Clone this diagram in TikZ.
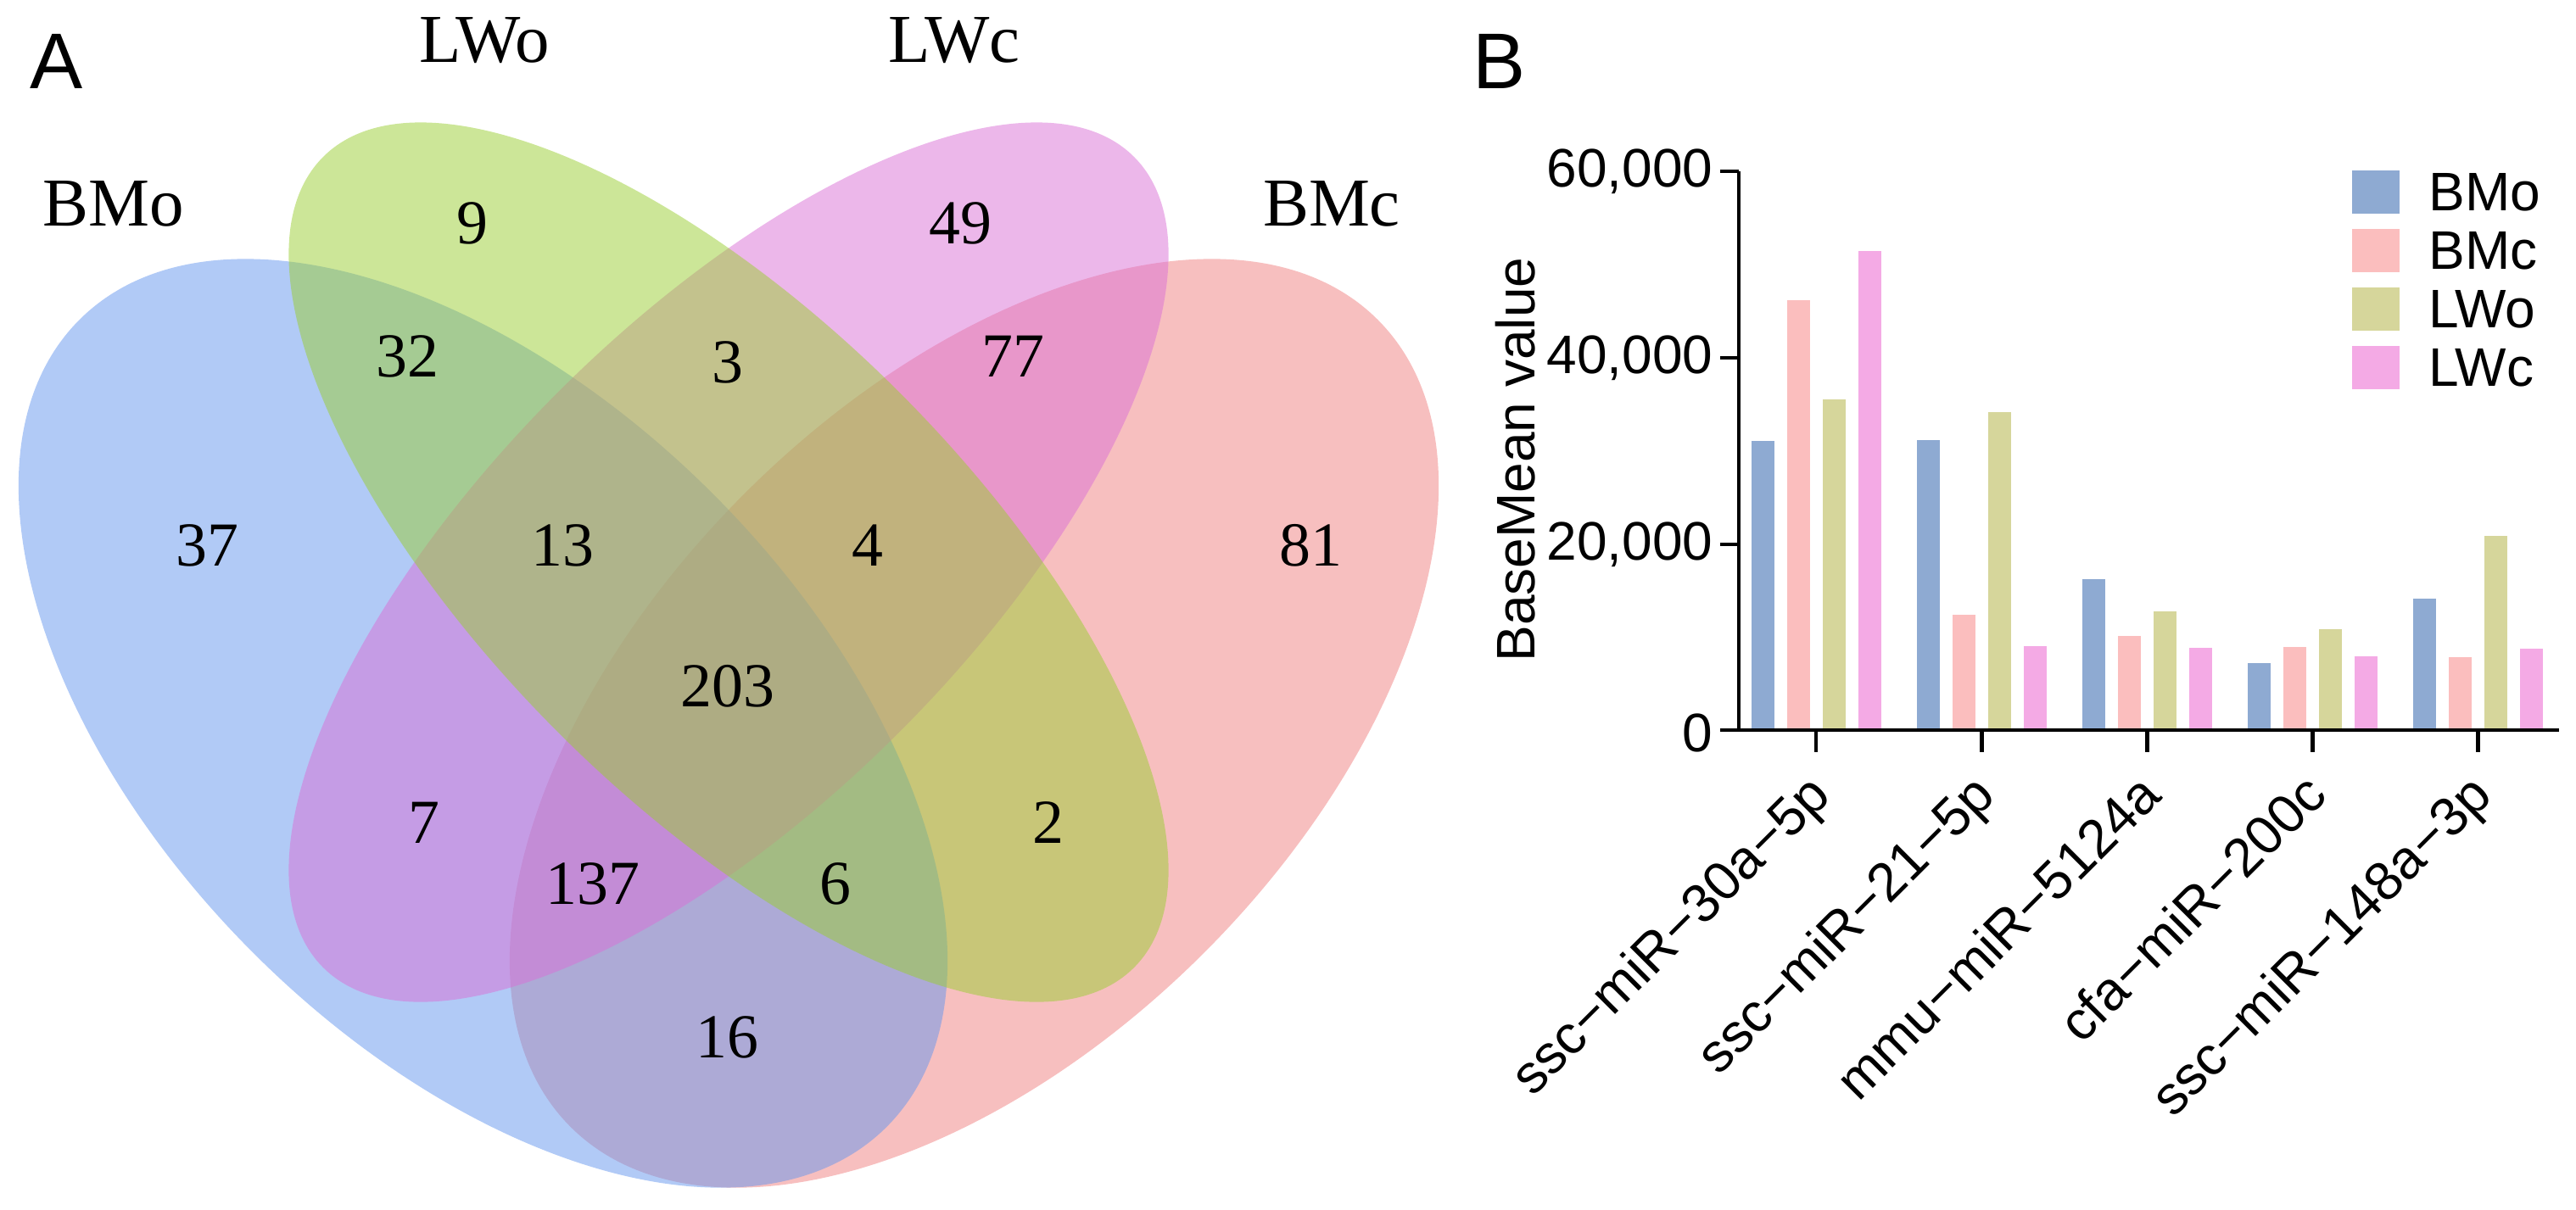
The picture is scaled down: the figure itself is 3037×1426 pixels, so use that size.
\documentclass[tikz,border=0pt]{standalone}
\usepackage{fontspec}
\setmainfont{Liberation Serif}
\newfontfamily\arialfont{Liberation Sans}
\definecolor{bmoV}{RGB}{100,149,237}
\definecolor{bmcV}{RGB}{240,128,128}
\definecolor{lwoV}{RGB}{154,205,50}
\definecolor{lwcV}{RGB}{218,112,214}
\definecolor{bmoB}{RGB}{142,170,210}
\definecolor{bmcB}{RGB}{251,190,190}
\definecolor{lwoB}{RGB}{214,214,155}
\definecolor{lwcB}{RGB}{244,170,229}

\begin{document}
\begin{tikzpicture}[x=0.01cm, y=-0.01cm]
    \tikzset{venn/.style={fill opacity=0.5},
             setlab/.style={font=\fontsize{23}{23}\selectfont, inner sep=0pt},
             count/.style={font=\fontsize{21}{21}\selectfont, inner sep=0pt},
             panel/.style={font=\arialfont\fontsize{26.5}{26.5}\selectfont, inner sep=0pt},
             axtext/.style={font=\arialfont\fontsize{18.2}{18.2}\selectfont, inner sep=0pt},
             axline/.style={line width=1.4pt}}
    \useasboundingbox (0,0) rectangle (3037,1426);

    \node[panel] (A) at (67, 72) {A};
    \node[panel] (B) at (1768, 72) {B};

    \fill[bmcV, venn, rotate around={45:(1148.5,853)}] (1148.5,853) ellipse [x radius=673, y radius=383];
    \fill[bmoV, venn, rotate around={-45:(569.5,853)}] (569.5,853) ellipse [x radius=673, y radius=383];
    \fill[lwcV, venn, rotate around={45:(859,663)}] (859,663) ellipse [x radius=676, y radius=284];
    \fill[lwoV, venn, rotate around={-45:(859,663)}] (859,663) ellipse [x radius=676, y radius=284];

    \node[setlab] (BMo) at (134, 240) {BMo};
    \node[setlab] (LWo) at (571, 48) {LWo};
    \node[setlab] (LWc) at (1125, 48) {LWc};
    \node[setlab] (BMc) at (1570, 240) {BMc};

    \node[count] (n9) at (557, 263) {9};
    \node[count] (n49) at (1132, 263) {49};
    \node[count] (n32) at (480, 420) {32};
    \node[count] (n3) at (858, 427) {3};
    \node[count] (n77) at (1194, 420) {77};
    \node[count] (n37) at (244, 643) {37};
    \node[count] (n13) at (663, 643) {13};
    \node[count] (n4) at (1023, 643) {4};
    \node[count] (n81) at (1545, 643) {81};
    \node[count] (n203) at (858, 809) {203};
    \node[count] (n7) at (500, 970) {7};
    \node[count] (n2) at (1236, 970) {2};
    \node[count] (n137) at (699, 1042) {137};
    \node[count] (n6) at (985, 1042) {6};
    \node[count] (n16) at (857, 1223) {16};

    \foreach \g/\a/\b/\c/\d in {0/31.0/46.1/35.5/51.4, 1/31.1/12.4/34.1/9.0,
                                2/16.2/10.1/12.7/8.8, 3/7.2/8.9/10.8/7.9,
                                4/14.1/7.8/20.8/8.7} {
        \pgfmathsetmacro{\gx}{2141+195*\g}
        \fill[bmoB] ({\gx-76.5}, 861) rectangle ({\gx-49.5}, {861-\a*10.9875});
        \fill[bmcB] ({\gx-34.5}, 861) rectangle ({\gx-7.5}, {861-\b*10.9875});
        \fill[lwoB] ({\gx+7.5}, 861) rectangle ({\gx+34.5}, {861-\c*10.9875});
        \fill[lwcB] ({\gx+49.5}, 861) rectangle ({\gx+76.5}, {861-\d*10.9875});
        \draw[axline] (\gx, 861) -- (\gx, 887);
    }

    \draw[axline] (2050, 202) -- (2050, 861);
    \draw[axline] (2028, 861) -- (3017, 861);
    \foreach \y in {861, 642, 422, 202} {
        \draw[axline] (2028, \y) -- (2050, \y);
    }
    \node[axtext, anchor=east] (t0) at (2020, 864) {0};
    \node[axtext, anchor=east] (t20) at (2020, 642) {20,000};
    \node[axtext, anchor=east] (t40) at (2020, 422) {40,000};
    \node[axtext, anchor=east] (t60) at (2020, 202) {60,000};
    \node[axtext, rotate=90] (ylab) at (1787, 542) {BaseMean value};

    \node[axtext, rotate=45, anchor=north east] (m1) at (2128, 907) {ssc−miR−30a−5p};
    \node[axtext, rotate=45, anchor=north east] (m2) at (2322, 907) {ssc−miR−21−5p};
    \node[axtext, rotate=45, anchor=north east] (m3) at (2518, 907) {mmu−miR−5124a};
    \node[axtext, rotate=45, anchor=north east] (m4) at (2713, 907) {cfa−miR−200c};
    \node[axtext, rotate=45, anchor=north east] (m5) at (2908, 907) {ssc−miR−148a−3p};

    \fill[bmoB] (2773, 201) rectangle (2829, 252);
    \fill[bmcB] (2773, 270) rectangle (2829, 321);
    \fill[lwoB] (2773, 339) rectangle (2829, 390);
    \fill[lwcB] (2773, 408) rectangle (2829, 459);
    \node[axtext, anchor=west] (legBMo) at (2863, 226.5) {BMo};
    \node[axtext, anchor=west] (legBMc) at (2863, 295.5) {BMc};
    \node[axtext, anchor=west] (legLWo) at (2863, 364.5) {LWo};
    \node[axtext, anchor=west] (legLWc) at (2863, 433.5) {LWc};
\end{tikzpicture}
\end{document}
